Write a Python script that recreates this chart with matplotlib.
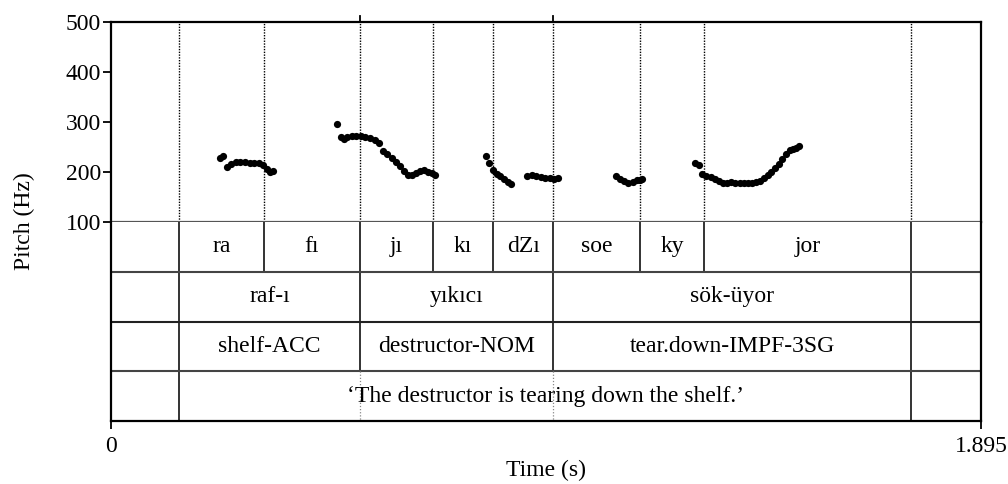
import matplotlib
matplotlib.use("Agg")
import matplotlib.pyplot as plt

plt.rcParams['font.family'] = ['Liberation Serif', 'DejaVu Serif']
plt.rcParams['font.size'] = 17

# pitch track (s, Hz), one list per voiced stretch
pitch_t = [
    [0.237, 0.245, 0.252, 0.262, 0.272, 0.282, 0.292, 0.302, 0.312, 0.322, 0.332, 0.340, 0.346, 0.353],
    [0.492, 0.500, 0.507, 0.515, 0.524, 0.534, 0.544, 0.554, 0.564, 0.574, 0.584, 0.593, 0.602, 0.611,
     0.620, 0.629, 0.638, 0.646, 0.655, 0.664, 0.673, 0.682, 0.691, 0.700, 0.706],
    [0.817, 0.824, 0.832, 0.840, 0.848, 0.856, 0.864, 0.871],
    [0.906, 0.916, 0.926, 0.936, 0.946, 0.956, 0.966, 0.974],
    [1.100, 1.109, 1.118, 1.127, 1.136, 1.145, 1.152, 1.157],
    [1.272, 1.280, 1.288, 1.297, 1.306, 1.315, 1.324, 1.333, 1.342, 1.351, 1.360, 1.369, 1.378, 1.387,
     1.396, 1.405, 1.414, 1.422, 1.430, 1.438, 1.446, 1.454, 1.462, 1.470, 1.478, 1.486, 1.493, 1.499],
]
pitch_hz = [
    [228, 232, 210, 216, 220, 221, 220, 219, 219, 218, 214, 206, 200, 202],
    [296, 271, 267, 270, 272, 273, 272, 271, 269, 265, 258, 242, 236, 228,
     220, 212, 202, 194, 194, 198, 202, 204, 200, 198, 194],
    [232, 218, 204, 196, 192, 186, 180, 176],
    [192, 194, 193, 191, 189, 188, 187, 188],
    [192, 186, 182, 178, 180, 184, 185, 186],
    [218, 214, 196, 192, 190, 186, 182, 178, 179, 180, 179, 178, 178, 178,
     179, 181, 182, 188, 194, 200, 208, 216, 226, 236, 244, 246, 249, 252],
]

t_end = 1.895

# TextGrid tiers
syl_bounds = [0, 0.148, 0.333, 0.542, 0.702, 0.832, 0.963, 1.152, 1.292, 1.743, t_end]
syl_labels = ['', 'ra', 'fı', 'jı', 'kı', 'dZı', 'soe', 'ky', 'jor', '']
word_bounds = [0, 0.148, 0.542, 0.963, 1.743, t_end]
word_labels = ['', 'raf-ı', 'yıkıcı', 'sök-üyor', '']
gloss_labels = ['', 'shelf-ACC', 'destructor-NOM', 'tear.down-IMPF-3SG', '']
trans_bounds = [0, 0.148, 1.743, t_end]
trans_labels = ['', '‘The destructor is tearing down the shelf.’', '']

tiers = [
    (syl_bounds, syl_labels),
    (word_bounds, word_labels),
    (word_bounds, gloss_labels),
    (trans_bounds, trans_labels),
]

W, H = 1008, 484
fig = plt.figure(figsize=(W / 100, H / 100), dpi=100)
left, right, top, mid, bottom = 111, 981, 22, 222, 421
ax = fig.add_axes([left / W, 1 - mid / H, (right - left) / W, (mid - top) / H])
axt = fig.add_axes([left / W, 1 - bottom / H, (right - left) / W, (bottom - mid) / H])

# pitch panel
for tt, hz in zip(pitch_t, pitch_hz):
    ax.plot(tt, hz, 'o', color='black', ms=5.2, mec='none')
for b in syl_bounds[1:-1]:
    ax.axvline(b, color='black', lw=1.0, ls=(0, (1, 1)))
ax.set_xlim(0, t_end)
ax.set_ylim(100, 500)
ax.set_yticks([100, 200, 300, 400, 500])
ax.set_xticks([])
ax.tick_params(axis='y', direction='out', length=6, width=1.3, pad=1, labelsize=17)
for side in ['left', 'top', 'right']:
    ax.spines[side].set_linewidth(1.6)
    ax.spines[side].set_color('black')
ax.spines['bottom'].set_linewidth(1.6)
ax.spines['bottom'].set_color('#555555')
# word-boundary marks above the frame
for b in [0.542, 0.963]:
    ax.plot([b, b], [500, 512], color='black', lw=1.3, clip_on=False)

# tiers
axt.set_xlim(0, t_end)
axt.set_ylim(len(tiers), 0)
for i, (bounds, labels) in enumerate(tiers):
    for b in bounds[1:-1]:
        axt.plot([b, b], [i, i + 1], color='#333333', lw=1.4)
    for a, b, lab in zip(bounds[:-1], bounds[1:], labels):
        if lab:
            axt.text((a + b) / 2, i + 0.5, lab, ha='center', va='center', fontsize=17)
for i in range(1, len(tiers)):
    axt.axhline(i, color='#222222' if i == 2 else '#444444', lw=1.5)
# word boundaries carried down through the translation tier
for b in [0.542, 0.963]:
    axt.plot([b, b], [3, 4], color='#888888', lw=0.9, ls=(0, (1, 1.5)))

axt.set_yticks([])
axt.set_xticks([0, t_end])
axt.set_xticklabels(['0', '1.895'])
axt.tick_params(axis='x', direction='out', length=6, width=1.3, pad=5, labelsize=17)
axt.spines['top'].set_visible(False)
for side in ['left', 'right', 'bottom']:
    axt.spines[side].set_linewidth(1.6)
    axt.spines[side].set_color('black')

fig.text((left + right) / 2 / W, 1 - 470 / H, 'Time (s)', ha='center', va='center', fontsize=17)
fig.text(24 / W, 1 - 221 / H, 'Pitch (Hz)', rotation=90, ha='center', va='center', fontsize=17)

fig.savefig('out.png', dpi=100)
